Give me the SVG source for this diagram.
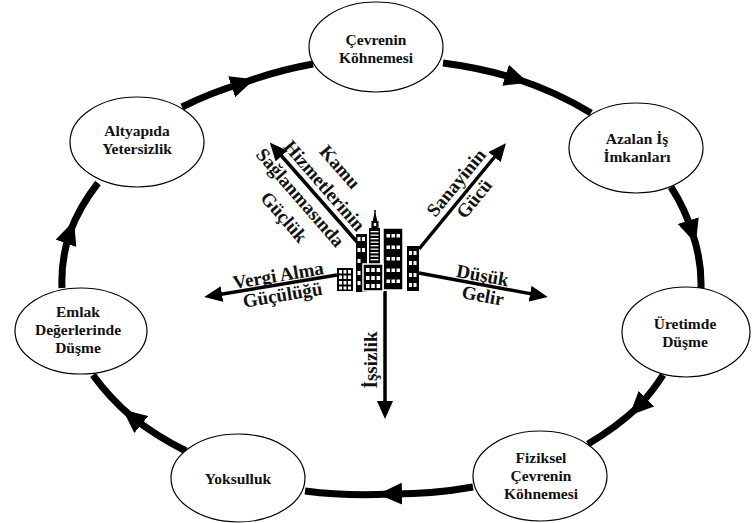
<svg xmlns="http://www.w3.org/2000/svg" width="754" height="523" viewBox="0 0 754 523">
<style>
.node ellipse{fill:#fff;stroke:#000;stroke-width:1.2}
.node text{font-family:"Liberation Serif","Times New Roman",serif;font-weight:bold;font-size:15.5px;text-anchor:middle;fill:#111}
.ring{fill:none;stroke:#000;stroke-width:7;marker-mid:url(#ringArrow)}
.ray{fill:none;stroke:#000;stroke-width:3.5;marker-end:url(#rayArrow)}
.lbl{font-family:"Liberation Serif","Times New Roman",serif;font-weight:bold;font-size:19px;text-anchor:middle;fill:#111}
.win{fill:#fff}
</style>
<defs>
<marker id="ringArrow" markerUnits="userSpaceOnUse" markerWidth="24" markerHeight="22" viewBox="0 0 24 22" refX="12" refY="11" orient="auto"><path d="M0,0 L24,11 L0,22 z" fill="#000"/></marker>
<marker id="rayArrow" markerUnits="userSpaceOnUse" markerWidth="18" markerHeight="16" viewBox="0 0 18 16" refX="4" refY="8" orient="auto"><path d="M0,0 L18,8 L0,16 z" fill="#000"/></marker>
</defs>
<rect width="754" height="523" fill="#fff"/>

<g id="connectors">
<path class="ring" d="M443,63 A320,220 0 0 1 517,79 A320,220 0 0 1 591,113"/>
<path class="ring" d="M671,187 A320,220 0 0 1 692,232 A320,220 0 0 1 701,288"/>
<path class="ring" d="M663,375 A320,220 0 0 1 638,407 A320,220 0 0 1 588,444"/>
<path class="ring" d="M473,487 A320,220 0 0 1 390,494 A320,220 0 0 1 305,491"/>
<path class="ring" d="M186,451 A320,220 0 0 1 132,417 A320,220 0 0 1 93,375"/>
<path class="ring" d="M62,288 A320,220 0 0 1 70,232 A320,220 0 0 1 98,183"/>
<path class="ring" d="M182,107 A320,220 0 0 1 243,83 A320,220 0 0 1 313,64"/>
</g>

<g id="n1" class="node"><ellipse cx="376" cy="47" rx="67" ry="45"/><text x="376" y="45">Çevrenin</text><text x="376" y="63">Köhnemesi</text></g>
<g id="n2" class="node"><ellipse cx="636" cy="148" rx="67" ry="45"/><text x="637" y="144">Azalan İş</text><text x="637" y="162">İmkanları</text></g>
<g id="n3" class="node"><ellipse cx="686" cy="332" rx="64" ry="45"/><text x="685" y="329">Üretimde</text><text x="685" y="347">Düşme</text></g>
<g id="n4" class="node"><ellipse cx="540" cy="476" rx="67" ry="45"/><text x="541" y="463">Fiziksel</text><text x="541" y="481">Çevrenin</text><text x="541" y="499">Köhnemesi</text></g>
<g id="n5" class="node"><ellipse cx="238" cy="478" rx="67" ry="44"/><text x="238" y="484">Yoksulluk</text></g>
<g id="n6" class="node"><ellipse cx="81" cy="331" rx="66" ry="43"/><text x="78" y="317">Emlak</text><text x="78" y="335">Değerlerinde</text><text x="78" y="353">Düşme</text></g>
<g id="n7" class="node"><ellipse cx="137" cy="142" rx="67" ry="45"/><text x="137" y="136">Altyapıda</text><text x="137" y="154">Yetersizlik</text></g>

<g id="rays">
<path class="ray" d="M358,243 L279,153"/>
<path class="ray" d="M419,249 L497,154"/>
<path class="ray" d="M419,273 L534,294.4"/>
<path class="ray" d="M337,275 L218,294.7"/>
<path class="ray" d="M385,291 L385,405"/>
</g>

<g id="city">
<rect x="337" y="268" width="16" height="23" fill="#000"/>
<g class="win">
<rect x="339" y="270" width="3" height="3.5"/><rect x="343.5" y="270" width="3" height="3.5"/><rect x="348" y="270" width="3" height="3.5"/>
<rect x="339" y="275.5" width="3" height="3.5"/><rect x="343.5" y="275.5" width="3" height="3.5"/><rect x="348" y="275.5" width="3" height="3.5"/>
<rect x="339" y="281" width="3" height="3.5"/><rect x="343.5" y="281" width="3" height="3.5"/><rect x="348" y="281" width="3" height="3.5"/>
<rect x="339" y="286.5" width="3" height="3"/><rect x="343.5" y="286.5" width="3" height="3"/><rect x="348" y="286.5" width="3" height="3"/>
</g>
<rect x="356" y="234" width="11" height="58" fill="#000"/>
<g class="win">
<rect x="357.5" y="237" width="3" height="4"/><rect x="362" y="237" width="3" height="4"/>
<rect x="357.5" y="248" width="3" height="4"/><rect x="362" y="248" width="3" height="4"/>
<rect x="357.5" y="259" width="3" height="4"/>
<rect x="357.5" y="271" width="3" height="4"/>
<rect x="357.5" y="281" width="3" height="4"/>
</g>
<path d="M375,210 L375,216 M372.5,226 L375,214 L377.5,226 z" stroke="#000" stroke-width="1.5" fill="#000"/>
<rect x="371.5" y="221" width="7" height="7" fill="#000"/>
<rect x="369" y="228" width="11" height="37" fill="#000"/>
<g class="win">
<rect x="370.5" y="231" width="8" height="1.3"/><rect x="370.5" y="234.5" width="8" height="1.3"/><rect x="370.5" y="238" width="8" height="1.3"/>
<rect x="370.5" y="241.5" width="8" height="1.3"/><rect x="370.5" y="245" width="8" height="1.3"/><rect x="370.5" y="248.5" width="8" height="1.3"/>
<rect x="370.5" y="252" width="8" height="1.3"/><rect x="370.5" y="255.5" width="8" height="1.3"/><rect x="370.5" y="259" width="8" height="1.3"/>
<rect x="373.8" y="223" width="2.4" height="3"/>
</g>
<rect x="383" y="228" width="20" height="62" fill="#000" stroke="#fff" stroke-width="1.5"/>
<g class="win">
<rect x="386.5" y="234" width="3.5" height="3.5"/><rect x="391.5" y="234" width="3.5" height="3.5"/><rect x="396.5" y="234" width="3.5" height="3.5"/>
<rect x="386.5" y="245.5" width="3.5" height="3.5"/><rect x="391.5" y="245.5" width="3.5" height="3.5"/><rect x="396.5" y="245.5" width="3.5" height="3.5"/>
<rect x="386.5" y="257" width="3.5" height="3.5"/><rect x="391.5" y="257" width="3.5" height="3.5"/><rect x="396.5" y="257" width="3.5" height="3.5"/>
<rect x="386.5" y="268.5" width="3.5" height="3.5"/><rect x="391.5" y="268.5" width="3.5" height="3.5"/><rect x="396.5" y="268.5" width="3.5" height="3.5"/>
<rect x="386.5" y="279.5" width="3.5" height="3.5"/><rect x="391.5" y="279.5" width="3.5" height="3.5"/><rect x="396.5" y="279.5" width="3.5" height="3.5"/>
</g>
<rect x="363" y="264" width="20" height="27" fill="#000" stroke="#fff" stroke-width="1.5"/>
<g class="win">
<rect x="366" y="268" width="3.5" height="4"/><rect x="371.3" y="268" width="3.5" height="4"/><rect x="376.6" y="268" width="3.5" height="4"/>
<rect x="366" y="276" width="3.5" height="4"/><rect x="371.3" y="276" width="3.5" height="4"/><rect x="376.6" y="276" width="3.5" height="4"/>
<rect x="366" y="284" width="3.5" height="4"/><rect x="371.3" y="284" width="3.5" height="4"/><rect x="376.6" y="284" width="3.5" height="4"/>
</g>
<rect x="407" y="246" width="12" height="45" fill="#000"/>
<g class="win">
<rect x="409" y="251" width="3" height="4"/><rect x="413.5" y="251" width="3" height="4"/>
<rect x="409" y="261" width="3" height="4"/><rect x="413.5" y="261" width="3" height="4"/>
<rect x="409" y="273" width="3" height="4"/><rect x="413.5" y="273" width="3" height="4"/>
<rect x="409" y="283" width="3" height="4"/><rect x="413.5" y="283" width="3" height="4"/>
</g>
</g>

<g id="labels">
<g transform="translate(357,245) rotate(49)">
<text class="lbl" x="-70" y="-32">Kamu</text>
<text class="lbl" x="-66" y="-8">Hizmetlerinin</text>
<text class="lbl" x="-73" y="18">Sağlanmasında</text>
<text class="lbl" x="-69" y="43">Güçlük</text>
</g>
<g transform="translate(418,247) rotate(-50.6)">
<text class="lbl" x="74" y="-5">Sanayinin</text>
<text class="lbl" x="73" y="19">Gücü</text>
</g>
<g transform="translate(419,273) rotate(10.5)">
<text class="lbl" x="63" y="-3">Düşük</text>
<text class="lbl" x="67" y="17">Gelir</text>
</g>
<g transform="translate(337,275) rotate(-9.4)">
<text class="lbl" x="-58" y="-3">Vergi Alma</text>
<text class="lbl" x="-57" y="17">Güçülüğü</text>
</g>
<g transform="translate(377,360) rotate(-90)">
<text class="lbl" x="0" y="0">İşsizlik</text>
</g>
</g>
</svg>
